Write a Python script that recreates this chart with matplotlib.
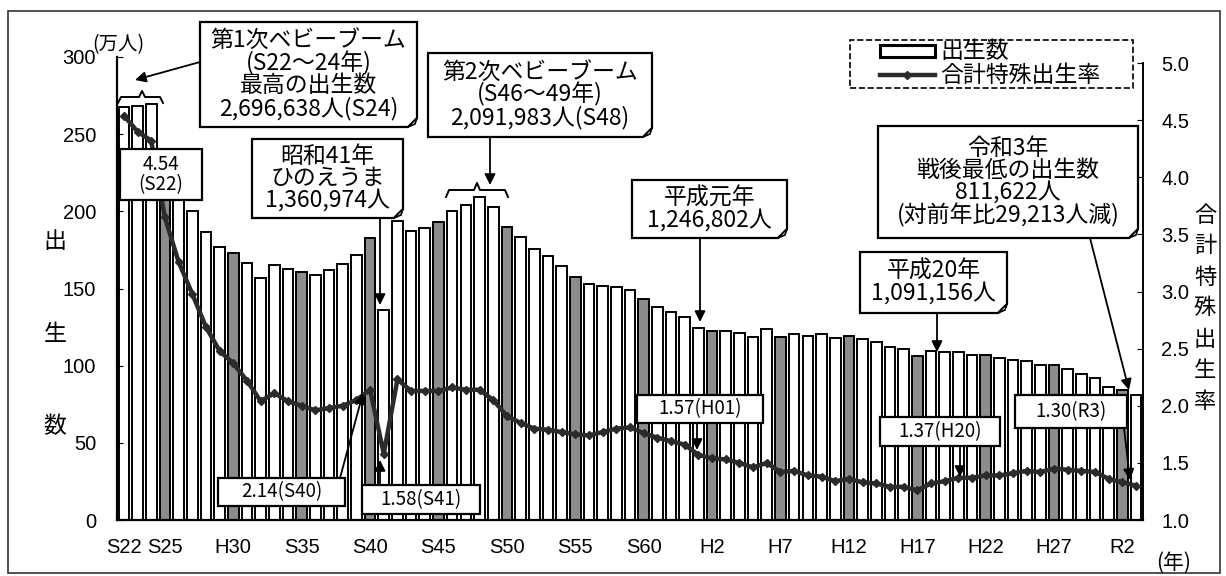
import numpy as np
import matplotlib
matplotlib.use('Agg')
from matplotlib import pyplot as plt
from matplotlib.patches import Polygon, Rectangle, FancyArrowPatch
from matplotlib.lines import Line2D

plt.rcParams['font.family'] = ['Noto Sans CJK JP', 'DejaVu Sans']

# 出生数 (万人) と 合計特殊出生率, 1947(S22) - 2021(R3)
years = np.arange(1947, 2022)
births = [267.9, 268.2, 269.7, 233.8, 213.8, 200.5, 186.8, 177.0, 173.1, 166.5,
          156.7, 165.3, 162.6, 160.6, 158.9, 161.9, 166.0, 171.7, 182.4, 136.1,
          193.6, 187.2, 188.9, 193.4, 200.1, 203.9, 209.2, 203.0, 190.1, 183.3,
          175.5, 170.9, 164.3, 157.7, 152.9, 151.5, 150.9, 149.0, 143.2, 138.3,
          134.7, 131.4, 124.7, 122.2, 122.3, 120.9, 118.8, 123.8, 118.7, 120.7,
          119.2, 120.3, 117.8, 119.1, 117.1, 115.4, 112.4, 111.1, 106.3, 109.3,
          109.0, 109.1, 107.0, 107.1, 105.1, 103.7, 103.0, 100.4, 100.6, 97.7,
          94.6, 91.8, 86.5, 84.1, 81.2]
tfr = [4.54, 4.40, 4.32, 3.65, 3.26, 2.98, 2.69, 2.48, 2.37, 2.22,
       2.04, 2.11, 2.04, 2.00, 1.96, 1.98, 2.00, 2.05, 2.14, 1.58,
       2.23, 2.13, 2.13, 2.13, 2.16, 2.14, 2.14, 2.05, 1.91, 1.85,
       1.80, 1.79, 1.77, 1.75, 1.74, 1.77, 1.80, 1.81, 1.76, 1.72,
       1.69, 1.66, 1.57, 1.54, 1.53, 1.50, 1.46, 1.50, 1.42, 1.43,
       1.39, 1.38, 1.34, 1.36, 1.33, 1.32, 1.29, 1.29, 1.26, 1.32,
       1.34, 1.37, 1.37, 1.39, 1.39, 1.41, 1.43, 1.42, 1.45, 1.44,
       1.43, 1.42, 1.36, 1.33, 1.30]

tick_years = [1947, 1950, 1955, 1960, 1965, 1970, 1975, 1980, 1985, 1990,
              1995, 2000, 2005, 2010, 2015, 2020]
tick_labels = ['S22', 'S25', 'H30', 'S35', 'S40', 'S45', 'S50', 'S55', 'S60',
               'H2', 'H7', 'H12', 'H17', 'H22', 'H27', 'R2']

W, H = 1226, 576
fig = plt.figure(figsize=(W / 100, H / 100), dpi=100)
LINE_C = '#2b2b2b'


def fp(x, y):
    # pixel (from top-left) -> figure fraction
    return (x / W, 1 - y / H)


def rect(l, t, r, b):
    return [l / W, 1 - b / H, (r - l) / W, (b - t) / H]


# outer frame
fig.add_artist(Rectangle(fp(8, 573), 1212 / W, 562 / H, transform=fig.transFigure,
                         fill=False, ec='#333333', lw=1.2))

ax = fig.add_axes(rect(117, 57, 1143, 520))
colors = ['#8c8c8c' if y % 5 == 0 else 'white' for y in years]
ax.bar(years, births, width=0.78, color=colors, edgecolor='black', linewidth=1.4)
ax.set_xlim(1946.5, 2021.5)
ax.set_ylim(0, 300)
ax.set_yticks(range(0, 301, 50))
ax.set_xticks(tick_years)
ax.set_xticklabels(tick_labels)
ax.tick_params(axis='x', length=0, pad=13, labelsize=14.5)
ax.tick_params(axis='y', direction='in', length=4, pad=15, labelsize=14.5)
for lab in ax.get_xticklabels() + ax.get_yticklabels():
    lab.set_family(['Liberation Sans', 'DejaVu Sans'])
ax.spines['top'].set_visible(False)
ax.spines['right'].set_visible(False)
for s in ['left', 'bottom']:
    ax.spines[s].set_linewidth(1.6)

ax2 = ax.twinx()
ax2.plot(years, tfr, color=LINE_C, lw=3.2, marker='D', ms=4, zorder=3)
ax2.set_ylim(1.0, 1.0 + 4 * 463 / 457)
ax2.set_yticks(np.arange(1.0, 5.01, 0.5))
ax2.set_yticklabels(['%.1f' % v for v in np.arange(1.0, 5.01, 0.5)])
ax2.tick_params(axis='y', direction='in', length=4, pad=13, labelsize=14.5)
for lab in ax2.get_yticklabels():
    lab.set_family(['Liberation Sans', 'DejaVu Sans'])
for s in ['top', 'left', 'bottom']:
    ax2.spines[s].set_visible(False)
ax2.spines['right'].set_linewidth(1.4)
ax2.spines['right'].set_bounds(1.0, 5.0)

# axis titles
fig.text(*fp(118, 45), '(万人)', fontsize=14, ha='center', va='center')
for ch, y in zip('出生数', [242, 335, 427]):
    fig.text(*fp(55, y), ch, fontsize=16.5, ha='center', va='center')
for i, ch in enumerate('合計特殊出生率'):
    fig.text(*fp(1205, 215 + i * 31.0), ch, fontsize=16, ha='center', va='center')
fig.text(*fp(1174, 563), '(年)', fontsize=15, ha='center', va='center')


def callout(l, t, r, b, text, fs, fold=True):
    c = 9 if fold else 0
    pts = [fp(l, t), fp(r, t), fp(r, b - c), fp(r - c, b), fp(l, b)]
    fig.add_artist(Polygon(pts, closed=True, transform=fig.transFigure,
                           fc='white', ec='black', lw=1.6, zorder=4))
    if fold:
        fig.add_artist(Polygon([fp(r, b - c), fp(r - c, b), fp(r - 2, b - 3)],
                               closed=True, transform=fig.transFigure,
                               fc='white', ec='black', lw=1.2, zorder=4))
    fig.text(*fp((l + r) / 2, (t + b) / 2), text, fontsize=fs, ha='center',
             va='center', linespacing=0.95, zorder=5)


def arrow(x0, y0, x1, y1):
    fig.add_artist(FancyArrowPatch(
        fp(x0, y0), fp(x1, y1), transform=fig.transFigure, arrowstyle='-|>',
        mutation_scale=16, color='black', lw=1.3, shrinkA=0, shrinkB=0, zorder=4))


def bracket(x0, x1, xm, y, h):
    xs = [x0, x0 + 3, xm - 3, xm, xm + 3, x1 - 3, x1]
    ys = [y + h, y, y, y - h, y, y, y + h]
    fig.add_artist(Line2D([x / W for x in xs], [1 - v / H for v in ys],
                          transform=fig.transFigure, color='black', lw=1.4))


bracket(118, 163, 142, 97, 6)
bracket(446, 508, 477, 190, 7)

big = 16.5
small = 13.5
callout(200, 22, 417, 127, '第1次ベビーブーム\n(S22～24年)\n最高の出生数\n2,696,638人(S24)', big)
arrow(200, 62, 135, 80)
callout(120, 149, 202, 200, '4.54\n(S22)', small, fold=False)
callout(252, 139, 403, 218, '昭和41年\nひのえうま\n1,360,974人', big)
arrow(380, 218, 380, 305)
callout(428, 53, 652, 137, '第2次ベビーブーム\n(S46～49年)\n2,091,983人(S48)', big)
arrow(490, 137, 490, 185)
callout(632, 180, 787, 238, '平成元年\n1,246,802人', big)
arrow(700, 238, 700, 322)
callout(878, 126, 1138, 238, '令和3年\n戦後最低の出生数\n811,622人\n(対前年比29,213人減)', big)
arrow(1090, 238, 1129, 390)
callout(860, 252, 1007, 313, '平成20年\n1,091,156人', big)
arrow(937, 313, 937, 352)

callout(637, 395, 763, 423, '1.57(H01)', small, fold=False)
arrow(697, 423, 697, 450)
callout(880, 417, 1000, 446, '1.37(H20)', small, fold=False)
arrow(960, 446, 960, 477)
callout(1015, 395, 1127, 428, '1.30(R3)', small, fold=False)
arrow(1124, 428, 1130, 480)
callout(218, 478, 345, 506, '2.14(S40)', small, fold=False)
arrow(340, 478, 363, 393)
callout(362, 485, 480, 514, '1.58(S41)', small, fold=False)
arrow(380, 485, 380, 460)

# legend, drawn by hand inside a dashed box
fig.add_artist(Rectangle(fp(850, 88), 283 / W, 48 / H, transform=fig.transFigure,
                         fill=False, ec='black', lw=1.2, ls='--'))
fig.add_artist(Rectangle(fp(880, 57), 55 / W, 12 / H, transform=fig.transFigure,
                         fc='white', ec='black', lw=2.2))
fig.add_artist(Line2D([880 / W, 935 / W], [1 - 75 / H] * 2, transform=fig.transFigure,
                      color=LINE_C, lw=3.2))
fig.add_artist(Line2D([907 / W], [1 - 75 / H], transform=fig.transFigure,
                      color=LINE_C, marker='D', ms=4))
fig.text(*fp(940, 51), '出生数', fontsize=16.5, ha='left', va='center')
fig.text(*fp(940, 75), '合計特殊出生率', fontsize=16.5, ha='left', va='center')

fig.savefig('out.png', dpi=100)
